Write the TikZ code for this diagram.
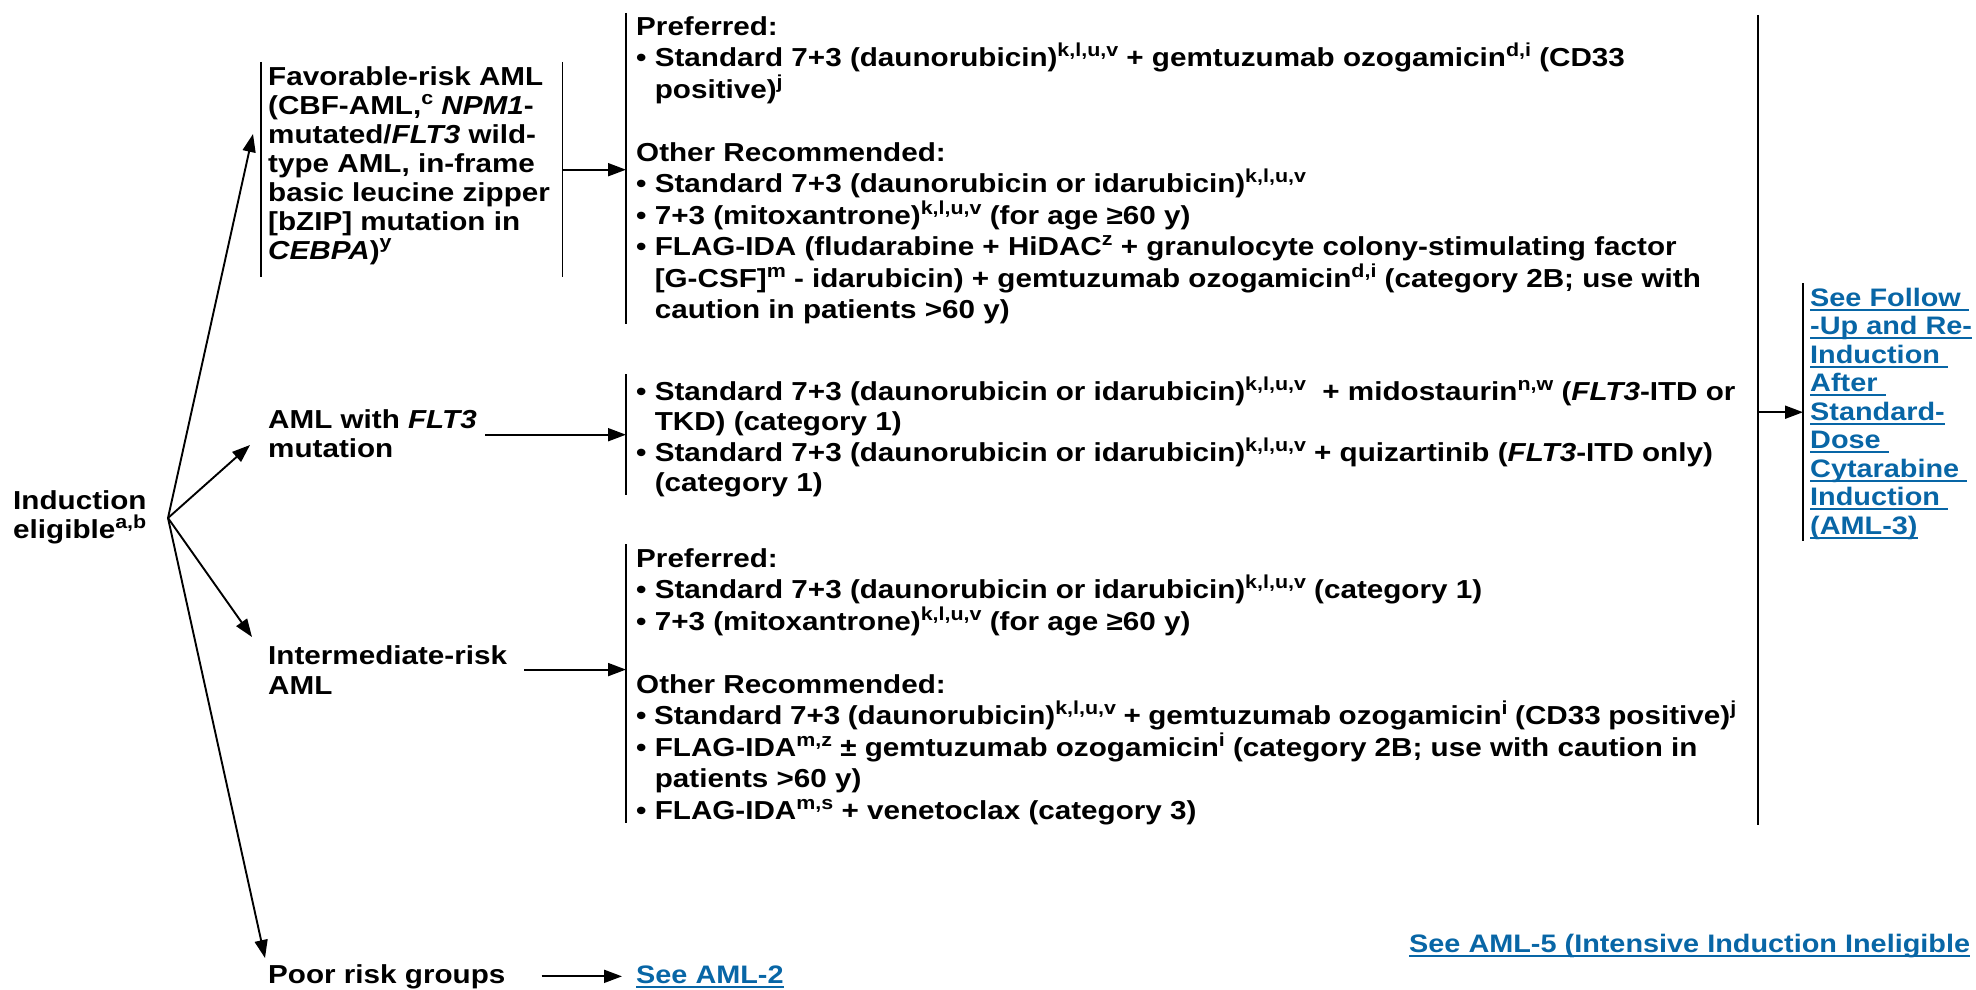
\documentclass[tikz,border=0pt]{standalone}
\usepackage{fontspec}
\setmainfont{Liberation Sans}[FakeStretch=1.14]
\usetikzlibrary{arrows.meta,calc}
\definecolor{linkblue}{HTML}{0866A6}
\newcommand\sps[1]{\raisebox{10pt}{\fontsize{18.8}{18.8}\selectfont #1}}
\newcommand\ulk[1]{\leavevmode\setbox0=\hbox{#1}\rlap{\color{linkblue}\rule[-4.5pt]{\wd0}{2pt}}\box0}
\newcommand\bul{\textbullet\ }
\newcommand\hin{\hphantom{\textbullet\ }}
\newcommand\tb[1]{\raggedright\setlength\baselineskip{#1}\setlength\lineskiplimit{-100pt}\leavevmode}
\tikzset{
  txt/.style={inner sep=0pt, anchor=base west, font=\bfseries\fontsize{26}{31.5}\selectfont},
  lnk/.style={inner sep=0pt, anchor=base west, font=\bfseries\fontsize{25.3}{29}\selectfont, text=linkblue},
  box/.style={inner sep=0pt, minimum width=0pt, anchor=north west},
  bar/.style={line width=1.7pt},
  arr/.style={line width=1.9pt, -{Triangle[length=18pt,width=13pt]}},
}
\begin{document}
\begin{tikzpicture}[x=1pt,y=-1pt]
\useasboundingbox (0,0) rectangle (1976,990);

% bar boxes
\node[box, minimum width=301pt, minimum height=215pt] (favbox) at (261,62) {};
\node[box, minimum height=311pt] (t1box) at (626,13) {};
\node[box, minimum height=121pt] (t2box) at (626,374) {};
\node[box, minimum height=279pt] (t3box) at (626,544) {};
\node[box, minimum height=810pt] (fubox) at (1758,15) {};
\node[box, minimum height=258pt] (lkbox) at (1803,283) {};

\draw[bar] (favbox.north west) -- (favbox.south west);
\draw[bar] (favbox.north east) -- (favbox.south east);
\draw[bar] (t1box.north west) -- (t1box.south west);
\draw[bar] (t2box.north west) -- (t2box.south west);
\draw[bar] (t3box.north west) -- (t3box.south west);
\draw[bar] (fubox.north west) -- (fubox.south west);
\draw[bar] (lkbox.north west) -- (lkbox.south west);

% left column texts
\node[txt] (indtxt) at (13,509) {\parbox[t]{150pt}{\tb{29pt}Induction\\ eligible\sps{a,b}}};
\node[txt] (favtxt) at (268,85) {\parbox[t]{290pt}{\tb{29pt}Favorable-risk AML\\
(CBF-AML,\sps{c} \textit{NPM1}-\\
mutated/\textit{FLT3} wild-\\
type AML, in-frame\\
basic leucine zipper\\{}[bZIP] mutation in\\
\textit{CEBPA})\sps{y}}};
\node[txt] (flttxt) at (268,428) {\parbox[t]{217pt}{\tb{29pt}AML with \textit{FLT3}\\ mutation}};
\node[txt] (inttxt) at (268,664) {\parbox[t]{256pt}{\tb{30pt}Intermediate-risk\\ AML}};
\node[txt] (poortxt) at (268,983) {Poor risk groups};

% treatment texts
\node[txt] (t1txt) at (636,35.5) {\parbox[t]{1100pt}{\tb{31.5pt}Preferred:\\
\bul Standard 7+3 (daunorubicin)\sps{k,l,u,v} + gemtuzumab ozogamicin\sps{d,i} (CD33\\
\hin positive)\sps{j}\\
\mbox{}\\
Other Recommended:\\
\bul Standard 7+3 (daunorubicin or idarubicin)\sps{k,l,u,v}\\
\bul 7+3 (mitoxantrone)\sps{k,l,u,v} (for age ≥60 y)\\
\bul FLAG-IDA (fludarabine + HiDAC\sps{z} + granulocyte colony-stimulating factor\\
\hin [G-CSF]\sps{m} - idarubicin) + gemtuzumab ozogamicin\sps{d,i} (category 2B; use with\\
\hin caution in patients >60 y)}};

\node[txt] (t2txt) at (636,400) {\parbox[t]{1100pt}{\tb{30.5pt}\bul Standard 7+3 (daunorubicin or idarubicin)\sps{k,l,u,v}\ \ + midostaurin\sps{n,w} (\textit{FLT3}-ITD or\\
\hin TKD) (category 1)\\
\bul Standard 7+3 (daunorubicin or idarubicin)\sps{k,l,u,v} + quizartinib (\textit{FLT3}-ITD only)\\
\hin (category 1)}};

\node[txt] (t3txt) at (636,567) {\parbox[t]{1100pt}{\tb{31.5pt}Preferred:\\
\bul Standard 7+3 (daunorubicin or idarubicin)\sps{k,l,u,v} (category 1)\\
\bul 7+3 (mitoxantrone)\sps{k,l,u,v} (for age ≥60 y)\\
\mbox{}\\
Other Recommended:\\
\bul Standard 7+3 (daunorubicin)\sps{k,l,u,v} + gemtuzumab ozogamicin\sps{i} (CD33 positive)\sps{j}\\
\bul FLAG-IDA\sps{m,z} ± gemtuzumab ozogamicin\sps{i} (category 2B; use with caution in\\
\hin patients >60 y)\\
\bul FLAG-IDA\sps{m,s} + venetoclax (category 3)}};

% links
\node[lnk] (lktxt) at (1810,306) {\parbox[t]{166pt}{\tb{28.5pt}\ulk{See Follow\ }\\
\ulk{-Up and Re-}\\
\ulk{Induction\ }\\
\ulk{After\ }\\
\ulk{Standard-}\\
\ulk{Dose\ }\\
\ulk{Cytarabine\ }\\
\ulk{Induction\ }\\
\ulk{(AML-3)}}};
\node[lnk, inner xsep=14pt] (aml2) at (622,983) {\ulk{See AML-2}};
\node[lnk] (aml5) at (1409,952) {\ulk{See AML-5 (Intensive Induction Ineligible}};

% connectors
\coordinate (split) at ($(indtxt.base west)+(155,9)$);
\draw[arr] (split) -- ($(favbox.north west)+(-8,72)$);
\draw[arr] (split) -- ($(flttxt.base west)+(-18,17)$);
\draw[arr] (split) -- ($(inttxt.base west)+(-16,-27)$);
\draw[arr] (split) -- ($(poortxt.base west)+(-3,-25)$);

\draw[arr] (favbox.east) -- (t1box.west |- favbox.east);
\draw[arr] (flttxt.east |- t2box.west) -- (t2box.west);
\draw[arr] (inttxt.east) -- (t3box.west |- inttxt.east);
\draw[arr] ($(poortxt.east)+(36,0)$) -- (aml2.west |- poortxt.east);
\draw[arr] (fubox.west |- lkbox.west) -- (lkbox.west);
\end{tikzpicture}
\end{document}
